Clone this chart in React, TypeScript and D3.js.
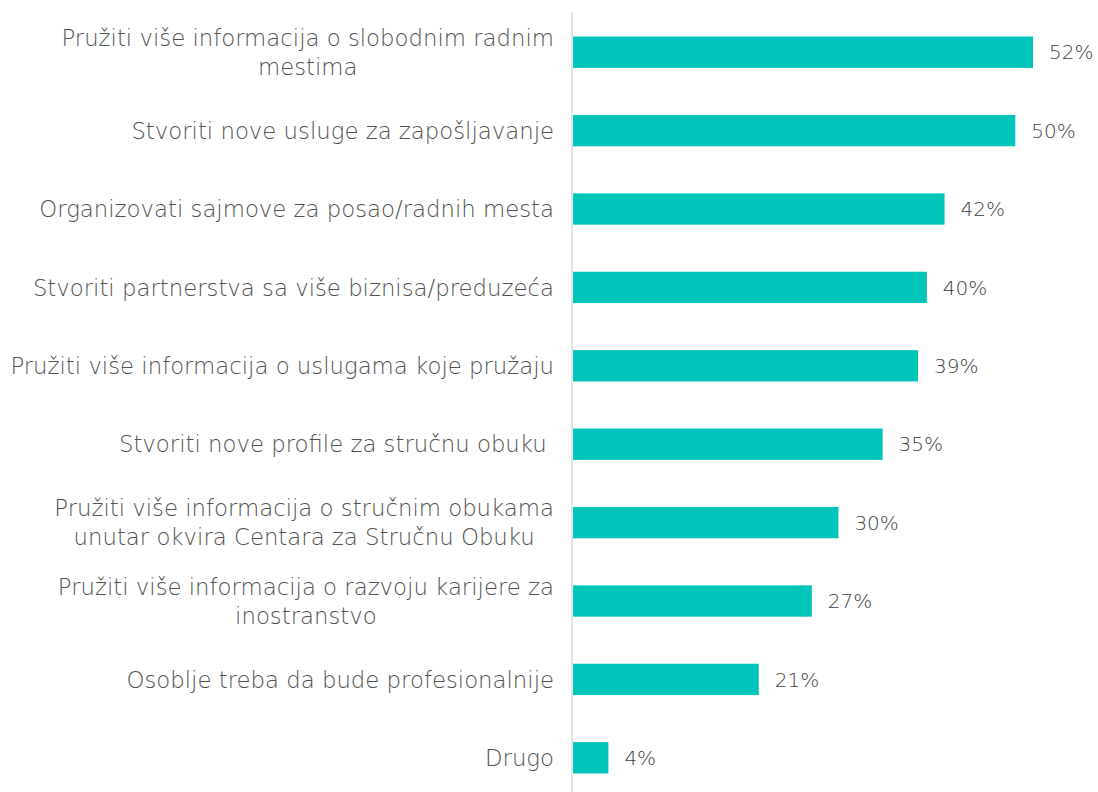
import React, { useEffect, useRef } from 'react';
import * as d3 from 'd3';

const categories: string[][] = [
  ['Pružiti više informacija o slobodnim radnim', 'mestima'],
  ['Stvoriti nove usluge za zapošljavanje'],
  ['Organizovati sajmove za posao/radnih mesta'],
  ['Stvoriti partnerstva sa više biznisa/preduzeća'],
  ['Pružiti više informacija o uslugama koje pružaju'],
  ['Stvoriti nove profile za stručnu obuku '],
  ['Pružiti više informacija o stručnim obukama', 'unutar okvira Centara za Stručnu Obuku'],
  ['Pružiti više informacija o razvoju karijere za', 'inostranstvo'],
  ['Osoblje treba da bude profesionalnije'],
  ['Drugo'],
];
const values: number[] = [52, 50, 42, 40, 39, 35, 30, 27, 21, 4];

const App = () => {
  const svgRef = useRef<SVGSVGElement>(null);

  useEffect(() => {
    const width = 1098;
    const height = 792;
    const svg = d3.select(svgRef.current)
      .attr('width', width)
      .attr('height', height);
    svg.selectAll('*').remove();

    const font = 'DejaVu Sans, sans-serif';
    const keys = categories.map((_, i) => String(i));

    const yScale = d3.scaleBand<string>()
      .domain(keys)
      .range([13, 797])
      .paddingInner(0.6)
      .paddingOuter(0.3);

    const xScale = d3.scaleLinear()
      .domain([0, 52])
      .range([573, 1033]);

    // bars
    svg.selectAll('rect.bar')
      .data(values)
      .enter()
      .append('rect')
      .attr('class', 'bar')
      .attr('x', xScale(0))
      .attr('y', (d, i) => yScale(keys[i])!)
      .attr('width', d => xScale(d) - xScale(0))
      .attr('height', yScale.bandwidth())
      .attr('fill', '#00C5BA');

    // axis line
    svg.append('line')
      .attr('x1', 572).attr('x2', 572)
      .attr('y1', 12).attr('y2', height)
      .attr('stroke', '#d9d9d9')
      .attr('stroke-width', 1.5);

    // value labels
    svg.selectAll('text.val')
      .data(values)
      .enter()
      .append('text')
      .attr('class', 'val')
      .attr('x', d => xScale(d) + 16)
      .attr('y', (d, i) => yScale(keys[i])! + yScale.bandwidth() / 2)
      .attr('dy', '0.36em')
      .style('font-family', font)
      .style('font-weight', 200)
      .style('font-size', '20px')
      .attr('fill', '#404040')
      .text(d => `${d}%`);

    // category labels: centered lines, block right-aligned
    const lineH = 29;
    categories.forEach((lines, i) => {
      const cy = yScale(keys[i])! + yScale.bandwidth() / 2;
      const g = svg.append('g');
      const texts = lines.map((line, j) =>
        g.append('text')
          .attr('y', cy + (j - (lines.length - 1) / 2) * lineH)
          .attr('dy', '0.36em')
          .attr('text-anchor', 'middle')
          .style('font-family', font)
          .style('font-weight', 200)
          .style('font-size', '22.8px')
          .style('white-space', 'pre')
          .attr('fill', '#505050')
          .text(line)
      );
      const maxW = d3.max(texts, t => (t.node() as SVGTextElement).getComputedTextLength()) || 0;
      texts.forEach(t => t.attr('x', 554 - maxW / 2));
    });
  }, []);

  return (
    <svg ref={svgRef} style={{ position: 'absolute', left: 0, top: 0 }}></svg>
  );
};

export default App;
